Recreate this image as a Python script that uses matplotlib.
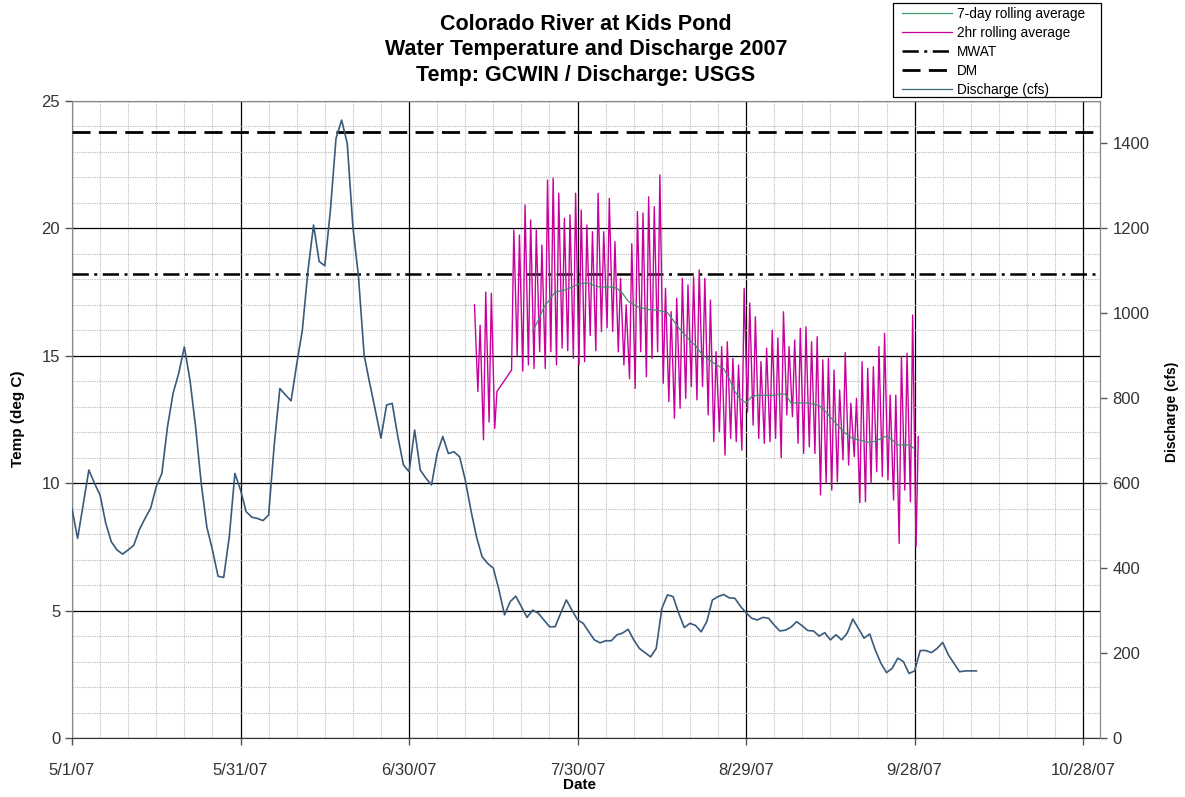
import numpy as np
import pandas as pd
import matplotlib
matplotlib.use("Agg")
import matplotlib.pyplot as plt
from matplotlib.lines import Line2D
from matplotlib.patches import Rectangle
from matplotlib.ticker import MultipleLocator

plt.rcParams['font.family'] = ['Liberation Sans', 'DejaVu Sans']

START = pd.Timestamp('2007-05-01')

# ---- Daily discharge (cfs), 5/1/07 onward ----
discharge_cfs = [
    540, 470, 550, 631, 600, 572, 506, 462, 443, 433,
    443, 454, 491, 517, 541, 592, 623, 733, 812, 859,
    921, 843, 733, 600, 497, 443, 381, 378, 474, 623,
    584, 533, 520, 517, 512, 525, 690, 823, 808, 794,
    880, 960, 1100, 1208, 1122, 1112, 1243, 1412, 1455, 1400,
    1204, 1086, 902, 835, 772, 706, 784, 788, 710, 643,
    627, 725, 631, 612, 596, 670, 710, 670, 674, 662,
    608, 537, 474, 427, 411, 400, 349, 290, 321, 334,
    309, 284, 301, 294, 278, 262, 262, 294, 325, 301,
    278, 270, 250, 231, 224, 229, 229, 243, 247, 256,
    231, 211, 201, 191, 211, 305, 337, 333, 294, 260,
    270, 265, 250, 274, 325, 333, 338, 330, 329, 310,
    295, 282, 278, 284, 282, 266, 252, 254, 261, 274,
    264, 253, 252, 240, 248, 231, 243, 231, 247, 280,
    258, 235, 245, 207, 176, 154, 164, 188, 180, 152,
    158, 206, 206, 201, 211, 225, 196, 176, 156, 158,
    158, 158,
]

# ---- 2hr rolling average temperature: daily low (morning) and high (afternoon), days 71-150 ----
temp_days = list(range(71, 151))
nan = np.nan
temp_daily_low = [
    nan, 13.6, 11.7, 12.4, 12.15, nan, nan, 14.44, 15.0,               # 71-79
    14.4, 14.64, 14.5, 15.16, 14.5, 15.16, 14.64, 15.3, 15.2, 14.9,    # 80-89
    14.64, 14.77, 15.8, 15.2, 15.95, 16.1, 15.95, 15.16, 14.64, 14.1,  # 90-99
    13.72, 15.16, 14.18, 14.9, 15.16, 13.92, 13.2, 12.55, 12.94, 13.33,  # 100-109
    13.79, 13.27, 13.79, 12.68, 11.63, 12.02, 11.1, 11.76, 11.63, 11.3,  # 110-119
    12.8, 12.28, 11.76, 11.57, 11.63, 11.76, 11.0, 12.68, 12.61, 11.57,  # 120-129
    11.17, 11.43, 11.17, 9.54, 10.0, 9.73, 10.06, 10.91, 10.71, 11.04,  # 130-139
    9.24, 9.27, 10.0, 10.45, 10.26, 10.13, 9.34, 7.64, 9.73, 9.27,     # 140-149
    7.51,                                                              # 150
]
temp_daily_high = [
    17.0, 16.2, 17.5, 17.45, 13.6, nan, nan, 19.94, 19.74,             # 71-79
    20.92, 20.33, 19.94, 19.35, 21.9, 21.97, 21.38, 20.4, 20.53, 21.38,  # 80-89
    20.72, 20.13, 19.87, 21.38, 19.87, 21.18, 19.48, 18.04, 17.0, 19.4,  # 90-99
    20.66, 20.6, 21.24, 20.85, 22.1, 17.65, 16.73, 17.26, 18.04, 17.78,  # 100-109
    18.1, 18.37, 18.04, 17.19, 15.16, 15.36, 15.55, 14.9, 14.64, 17.65,  # 110-119
    17.07, 16.53, 14.77, 15.3, 16.0, 15.7, 16.73, 15.36, 15.62, 16.08,  # 120-129
    16.14, 15.55, 15.75, 14.84, 14.9, 14.44, 13.66, 15.12, 13.14, 13.33,  # 130-139
    14.77, 14.51, 14.57, 15.36, 15.88, 13.46, 13.46, 14.97, 15.1, 16.6,  # 140-149
    11.83,                                                             # 150
]

# ---- 7-day rolling average temperature, days 82-150 ----
avg7_days = list(range(82, 151))
avg7_temp = [
    15.95, 16.4, 16.9, 17.2, 17.5, 17.55, 17.6, 17.7,                  # 82-89
    17.8, 17.85, 17.85, 17.75, 17.7, 17.7, 17.7, 17.65, 17.45, 17.15,  # 90-99
    17.0, 16.9, 16.85, 16.8, 16.8, 16.75, 16.7, 16.4, 16.1, 15.85,     # 100-109
    15.6, 15.4, 15.1, 14.9, 14.75, 14.6, 14.5, 14.1, 13.6, 13.3,       # 110-119
    13.15, 13.4, 13.45, 13.45, 13.45, 13.45, 13.5, 13.5, 13.15, 13.15,  # 120-129
    13.15, 13.15, 13.1, 13.05, 12.85, 12.6, 12.35, 12.1, 11.9, 11.75,  # 130-139
    11.7, 11.65, 11.6, 11.65, 11.75, 11.85, 11.7, 11.5, 11.5, 11.5,    # 140-149
    11.35,                                                             # 150
]

MWAT = 18.2
DM = 23.8

x_tick_labels = ['5/1/07', '5/31/07', '6/30/07', '7/30/07', '8/29/07', '9/28/07', '10/28/07']
legend_labels = ['7-day rolling average', '2hr rolling average', 'MWAT', 'DM', 'Discharge (cfs)']


def to_dates(days):
    return START + pd.to_timedelta(np.asarray(days, dtype=float), unit='D')


# build the 2hr series (low in the early morning, high in the afternoon)
t2, v2 = [], []
for d, lo, hi in zip(temp_days, temp_daily_low, temp_daily_high):
    if not np.isnan(lo):
        t2.append(d + 0.25); v2.append(lo)
    if not np.isnan(hi):
        t2.append(d + 0.65); v2.append(hi)

W, H = 1185, 797
fig = plt.figure(figsize=(W / 100, H / 100), dpi=100)
L, R, T, B = 72, 1100, 101, 738
ax = fig.add_axes([L / W, (H - B) / H, (R - L) / W, (B - T) / H])
ax2 = ax.twinx()

# axes and grid
ax.set_xlim(to_dates([0])[0], to_dates([183])[0])
ax.set_ylim(0, 25)
major_x = to_dates([0, 30, 60, 90, 120, 150, 180])
minor_x = to_dates(np.arange(0, 184, 5))
ax.set_xticks(major_x)
ax.set_xticklabels(x_tick_labels)
ax.set_xticks(minor_x, minor=True)
ax.yaxis.set_major_locator(MultipleLocator(5))
ax.yaxis.set_minor_locator(MultipleLocator(1))
ax.grid(which='minor', color='#bdbdbd', linestyle=(0, (1, 1)), linewidth=0.8)
ax.grid(which='major', color='black', linestyle='-', linewidth=0.9)
ax.set_axisbelow(True)

ax.tick_params(axis='both', which='major', direction='out', length=5, width=1,
               color='#555555', labelsize=12, labelcolor='#333333')
ax.tick_params(axis='both', which='minor', length=0)
ax.tick_params(axis='x', pad=13)

for s in ['left', 'right', 'top']:
    ax.spines[s].set_color('#888888')
ax.spines['bottom'].set_color('#333333')
for s in ax2.spines.values():
    s.set_visible(False)

# reference lines
dm_style = (0, (6.5, 3.0))
mwat_style = (0, (6.5, 2.2, 1.2, 2.2))
ax.axhline(DM, color='black', linewidth=2.0, linestyle=dm_style, zorder=3)
ax.axhline(MWAT, color='black', linewidth=1.8, linestyle=mwat_style, zorder=3)

# 2hr series and 7-day average
ax.plot(to_dates(t2), v2, color='#C8009E', linewidth=1.0, zorder=4)
ax.plot(to_dates(avg7_days), avg7_temp, color='#3f8f6f', linewidth=0.9, zorder=5)

# discharge
q_days = np.arange(len(discharge_cfs))
ax2.plot(to_dates(q_days), discharge_cfs, color='#3a5a7c', linewidth=1.2, zorder=6)
ax2.set_ylim(0, 1500)
ax2.yaxis.set_major_locator(MultipleLocator(200))
ax2.tick_params(axis='y', direction='out', length=5, width=1, color='#555555',
                labelsize=12, labelcolor='#333333', pad=4)
ax2.spines['right'].set_visible(True)
ax2.spines['right'].set_color('#888888')

# text
fig.text(586 / W, 1 - 50 / H,
         'Colorado River at Kids Pond\nWater Temperature and Discharge 2007\nTemp: GCWIN / Discharge: USGS',
         ha='center', va='center', fontsize=15.5, fontweight='bold', linespacing=1.28)
fig.text(18 / W, 1 - 419 / H, 'Temp (deg C)', rotation=90, ha='center', va='center',
         fontsize=11, fontweight='bold')
fig.text(1172 / W, 1 - 412 / H, 'Discharge (cfs)', rotation=90, ha='center', va='center',
         fontsize=10, fontweight='bold')
fig.text(580 / W, 1 - 785 / H, 'Date', ha='center', va='center', fontsize=11, fontweight='bold')

# legend (frame drawn separately to match the wide box)
handles = [
    Line2D([], [], color='#3f9f6f', linewidth=0.9),
    Line2D([], [], color='#C8009E', linewidth=0.9),
    Line2D([], [], color='black', linewidth=1.8, linestyle=mwat_style),
    Line2D([], [], color='black', linewidth=2.0, linestyle=dm_style),
    Line2D([], [], color='#3a6a7c', linewidth=0.9),
]
leg = fig.legend(handles, legend_labels, loc='upper left', bbox_to_anchor=(902 / W, 1 - 7 / H),
                 frameon=False, fontsize=9.8, handlelength=3.7, handletextpad=0.35,
                 labelspacing=0.36, borderpad=0, borderaxespad=0)
fig.patches.append(Rectangle((893 / W, 1 - 97 / H), 208 / W, 94 / H, transform=fig.transFigure,
                             fill=False, edgecolor='black', linewidth=0.9))

fig.savefig('out.png', dpi=100)
